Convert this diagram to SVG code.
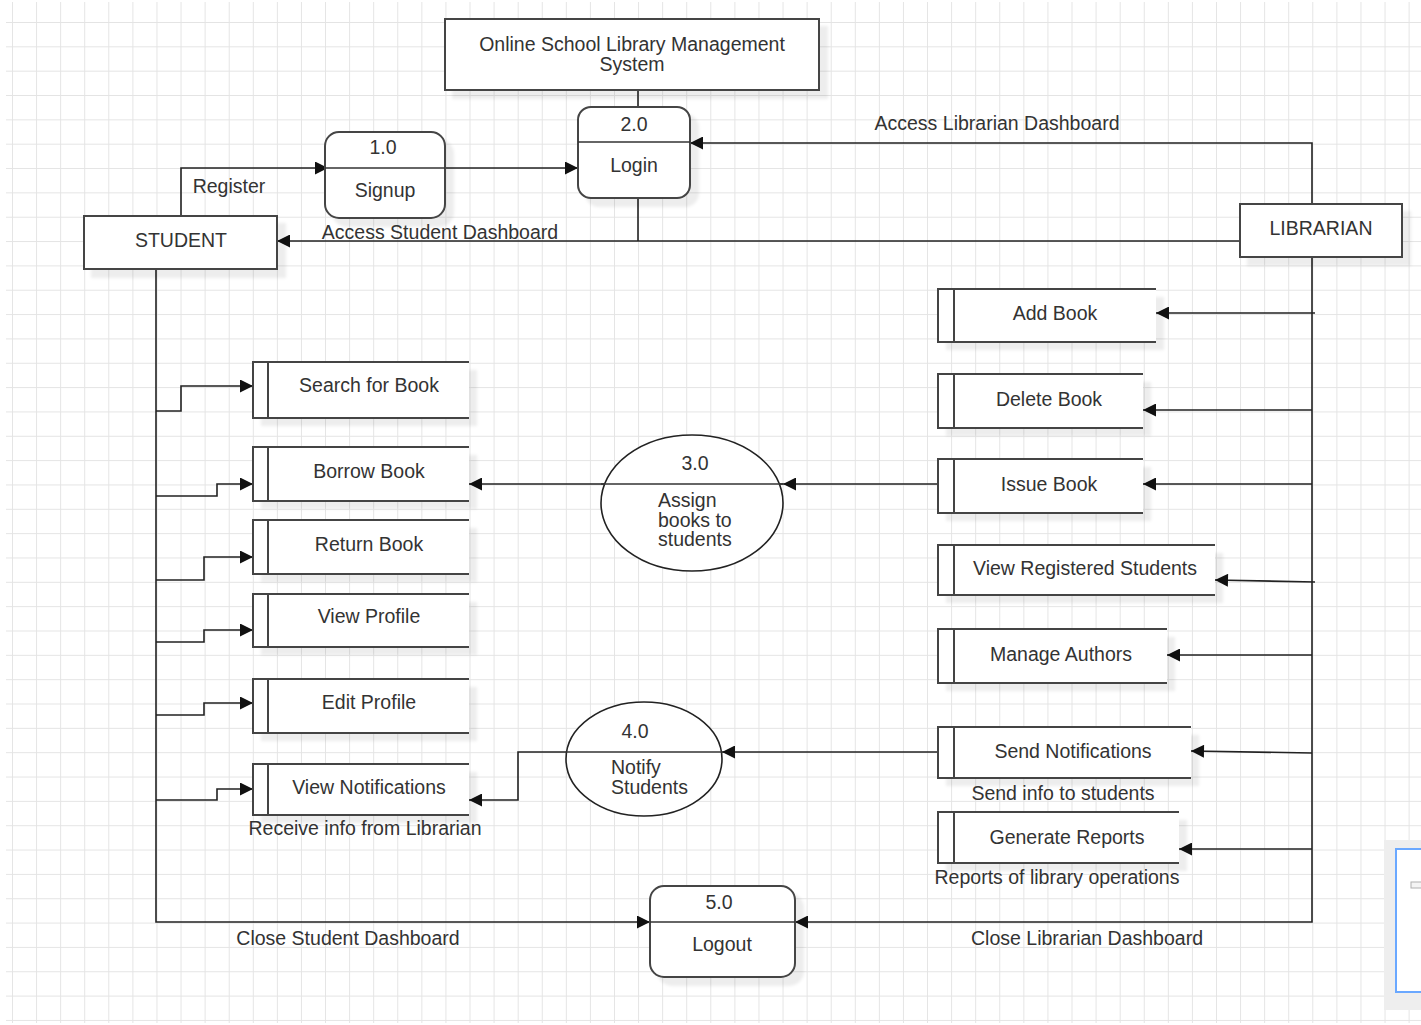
<svg xmlns="http://www.w3.org/2000/svg" width="1421" height="1025" viewBox="0 0 1421 1025">
<defs>
<pattern id="grid" patternUnits="userSpaceOnUse" x="12" y="22" width="24.08" height="24.34">
<path d="M0,0 V24.34 M0,0 H24.08" fill="none" stroke="#e4e4e4" stroke-width="2"/>
</pattern>
<marker id="arr" viewBox="0 0 10 10" refX="10" refY="5" markerWidth="15" markerHeight="13" markerUnits="userSpaceOnUse" orient="auto">
<path d="M0,0 L10,5 L0,10 z" fill="#111"/>
</marker>
<filter id="sh" x="-10%" y="-10%" width="130%" height="140%">
<feDropShadow dx="8" dy="8" stdDeviation="1.5" flood-color="#000" flood-opacity="0.07"/>
</filter>
<style>
text{font-family:"Liberation Sans",Arial,sans-serif;font-size:19.5px;fill:#333;text-anchor:middle}
.l{text-anchor:start}
.box{fill:#fff;stroke:#444;stroke-width:2}
.st{fill:none;stroke:#444;stroke-width:2}
.div{stroke:#333;stroke-width:1.5}
.c{fill:none;stroke:#222;stroke-width:1.6}
.a{marker-end:url(#arr)}
</style>
</defs>
<rect x="0" y="0" width="1421" height="1025" fill="#fff"/>
<rect x="6" y="2" width="1415" height="1021" fill="url(#grid)"/>

<g id="connectors">
<path class="c" d="M638,90 V107"/>
<path class="c" d="M638,198 V241"/>
<path class="c a" d="M181,216 V168 H328"/>
<path class="c a" d="M445,168 H578"/>
<path class="c a" d="M1240,241 H277"/>
<path class="c a" d="M1312,204 V143 H690"/>
<path class="c a" d="M1312,257 V922 H795"/>
<path class="c a" d="M1315,313 H1156"/>
<path class="c a" d="M1312,410 H1143"/>
<path class="c a" d="M1312,484 H1143"/>
<path class="c a" d="M1315,582 L1215,580"/>
<path class="c a" d="M1312,655 H1167"/>
<path class="c a" d="M1312,753 L1191,751"/>
<path class="c a" d="M1312,849 H1179"/>
<path class="c a" d="M938,484 H783"/>
<path class="c a" d="M783,484 H469"/>
<path class="c a" d="M938,752 H722"/>
<path class="c a" d="M722,752 H518 V800 H469"/>
<path class="c a" d="M156,269 V922 H650"/>
<path class="c a" d="M156,411 H181 V386 H253"/>
<path class="c a" d="M156,496 H217 V484 H253"/>
<path class="c a" d="M156,580 H204 V557 H253"/>
<path class="c a" d="M156,642 H204 V630 H253"/>
<path class="c a" d="M156,715 H204 V703 H253"/>
<path class="c a" d="M156,800 H217 V789 H253"/>
</g>

<g id="title">
<rect class="box" x="445" y="19" width="374" height="71" filter="url(#sh)"/>
<text x="632" y="51">Online School Library Management</text>
<text x="632" y="71">System</text>
</g>

<g id="p1-signup">
<rect class="box" x="325" y="132" width="120" height="86" rx="14" filter="url(#sh)"/>
<line class="div" x1="325" y1="168" x2="445" y2="168"/>
<text x="383" y="154">1.0</text>
<text x="385" y="197">Signup</text>
</g>

<g id="p2-login">
<rect class="box" x="578" y="107" width="112" height="91" rx="13" filter="url(#sh)"/>
<line class="div" x1="578" y1="142" x2="690" y2="142"/>
<text x="634" y="131">2.0</text>
<text x="634" y="172">Login</text>
</g>

<g id="student">
<rect class="box" x="84" y="216" width="193" height="53" filter="url(#sh)"/>
<text x="181" y="247">STUDENT</text>
</g>

<g id="librarian">
<rect class="box" x="1240" y="204" width="162" height="53" filter="url(#sh)"/>
<text x="1321" y="235">LIBRARIAN</text>
</g>

<g id="s-search">
<rect x="253" y="362" width="216" height="56" fill="#fff" filter="url(#sh)"/>
<path class="st" d="M469,362 H253 V418 H469 M268,362 V418"/>
<text x="369" y="392">Search for Book</text>
</g>
<g id="s-borrow">
<rect x="253" y="447" width="216" height="54" fill="#fff" filter="url(#sh)"/>
<path class="st" d="M469,447 H253 V501 H469 M268,447 V501"/>
<text x="369" y="478">Borrow Book</text>
</g>
<g id="s-return">
<rect x="253" y="520" width="216" height="54" fill="#fff" filter="url(#sh)"/>
<path class="st" d="M469,520 H253 V574 H469 M268,520 V574"/>
<text x="369" y="551">Return Book</text>
</g>
<g id="s-viewprofile">
<rect x="253" y="594" width="216" height="53" fill="#fff" filter="url(#sh)"/>
<path class="st" d="M469,594 H253 V647 H469 M268,594 V647"/>
<text x="369" y="623">View Profile</text>
</g>
<g id="s-editprofile">
<rect x="253" y="679" width="216" height="54" fill="#fff" filter="url(#sh)"/>
<path class="st" d="M469,679 H253 V733 H469 M268,679 V733"/>
<text x="369" y="709">Edit Profile</text>
</g>
<g id="s-viewnotif">
<rect x="253" y="764" width="216" height="51" fill="#fff" filter="url(#sh)"/>
<path class="st" d="M469,764 H253 V815 H469 M268,764 V815"/>
<text x="369" y="794">View Notifications</text>
<text x="365" y="835">Receive info from Librarian</text>
</g>

<g id="s-addbook">
<rect x="938" y="289" width="218" height="53" fill="#fff" filter="url(#sh)"/>
<path class="st" d="M1156,289 H938 V342 H1156 M954,289 V342"/>
<text x="1055" y="320">Add Book</text>
</g>
<g id="s-deletebook">
<rect x="938" y="374" width="205" height="54" fill="#fff" filter="url(#sh)"/>
<path class="st" d="M1143,374 H938 V428 H1143 M954,374 V428"/>
<text x="1049" y="406">Delete Book</text>
</g>
<g id="s-issuebook">
<rect x="938" y="459" width="205" height="54" fill="#fff" filter="url(#sh)"/>
<path class="st" d="M1143,459 H938 V513 H1143 M954,459 V513"/>
<text x="1049" y="491">Issue Book</text>
</g>
<g id="s-viewstudents">
<rect x="938" y="545" width="277" height="50" fill="#fff" filter="url(#sh)"/>
<path class="st" d="M1215,545 H938 V595 H1215 M954,545 V595"/>
<text x="1085" y="575">View Registered Students</text>
</g>
<g id="s-authors">
<rect x="938" y="629" width="229" height="54" fill="#fff" filter="url(#sh)"/>
<path class="st" d="M1167,629 H938 V683 H1167 M954,629 V683"/>
<text x="1061" y="661">Manage Authors</text>
</g>
<g id="s-sendnotif">
<rect x="938" y="727" width="253" height="51" fill="#fff" filter="url(#sh)"/>
<path class="st" d="M1191,727 H938 V778 H1191 M954,727 V778"/>
<text x="1073" y="758">Send Notifications</text>
<text x="1063" y="800">Send info to students</text>
</g>
<g id="s-reports">
<rect x="938" y="812" width="241" height="51" fill="#fff" filter="url(#sh)"/>
<path class="st" d="M1179,812 H938 V863 H1179 M954,812 V863"/>
<text x="1067" y="844">Generate Reports</text>
<text x="1057" y="884">Reports of library operations</text>
</g>

<g id="p3-assign">
<ellipse cx="692" cy="503" rx="91" ry="68" fill="#fff" stroke="#222" stroke-width="1.6"/>
<line class="div" x1="601" y1="484" x2="783" y2="484"/>
<text x="695" y="470">3.0</text>
<text class="l" x="658" y="507">Assign</text>
<text class="l" x="658" y="527">books to</text>
<text class="l" x="658" y="546">students</text>
</g>

<g id="p4-notify">
<ellipse cx="644" cy="759" rx="78" ry="57" fill="#fff" stroke="#222" stroke-width="1.6"/>
<line class="div" x1="566" y1="752" x2="722" y2="752"/>
<text x="635" y="738">4.0</text>
<text class="l" x="611" y="774">Notify</text>
<text class="l" x="611" y="794">Students</text>
</g>

<g id="p5-logout">
<rect class="box" x="650" y="886" width="145" height="91" rx="14" filter="url(#sh)"/>
<line class="div" x1="650" y1="922" x2="795" y2="922"/>
<text x="719" y="909">5.0</text>
<text x="722" y="951">Logout</text>
</g>

<g id="labels">
<text x="229" y="193">Register</text>
<text x="440" y="239">Access Student Dashboard</text>
<text x="997" y="130">Access Librarian Dashboard</text>
<text x="348" y="945">Close Student Dashboard</text>
<text x="1087" y="945">Close Librarian Dashboard</text>
</g>

<g id="overlay">
<rect x="1384" y="840" width="40" height="170" fill="#eeeeee"/>
<rect x="1396" y="849" width="30" height="143" fill="#fff" stroke="#6aa8ff" stroke-width="2"/>
<rect x="1411" y="882" width="12" height="6" fill="#f4f4f4" stroke="#b0b0b0" stroke-width="1"/>
</g>
</svg>
